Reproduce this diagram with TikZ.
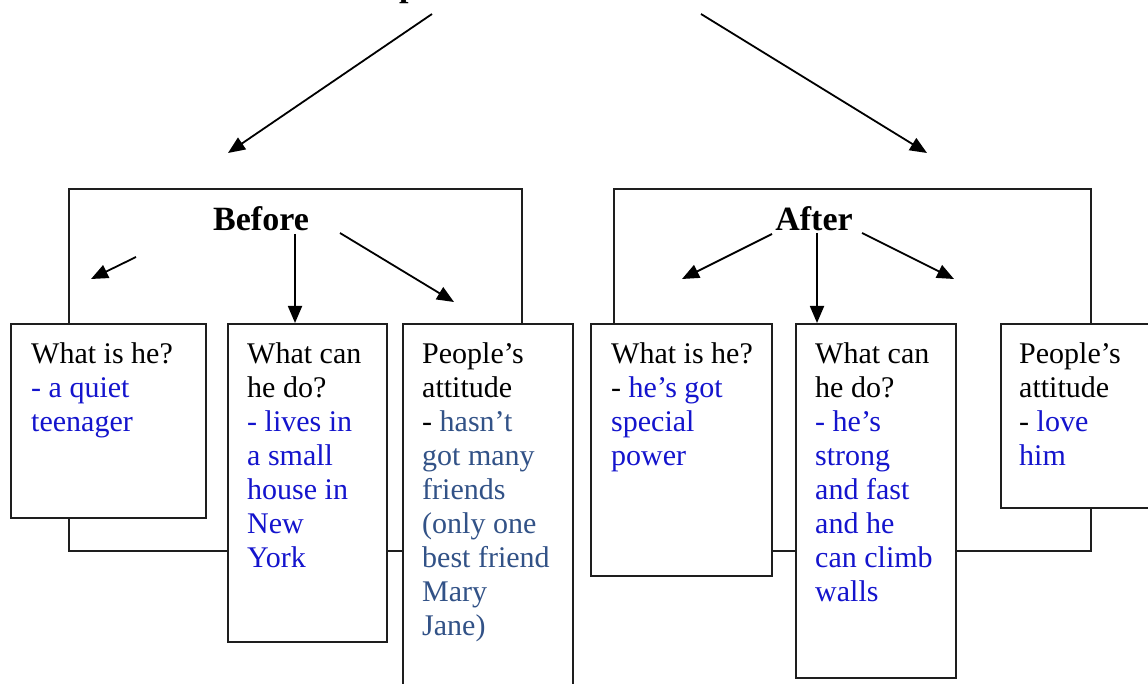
\documentclass[tikz,border=0pt]{standalone}
\usepackage{fontspec}
\setmainfont{Liberation Serif}
\usetikzlibrary{arrows.meta}
\definecolor{txtblue}{RGB}{20,20,205}
\definecolor{txtslate}{RGB}{50,82,135}
\definecolor{linec}{RGB}{30,30,30}
\begin{document}
\begin{tikzpicture}[x=1pt,y=-1pt,
  framest/.style={draw=linec, line width=1.8pt, anchor=north west, inner sep=0pt},
  cbox/.style={draw=linec, line width=1.8pt, fill=white, anchor=north west, inner sep=0pt},
  btxt/.style={anchor=north west, inner sep=0pt, align=left, font=\fontsize{30}{34}\selectfont},
  ttl/.style={anchor=base, inner sep=0pt, font=\fontsize{34}{40}\selectfont\bfseries},
  arr/.style={draw=black, line width=1.8pt, -{Triangle[length=17pt,width=14pt]}}]
\useasboundingbox (0,0) rectangle (1148,684);
\fill[white] (0,0) rectangle (1148,684);

% cut-off title (only a descender shows)
\node[ttl, anchor=base west] (title) at (399,-3.5) {p};

% top arrows
\coordinate (tls) at (432,14);
\coordinate (tle) at (228,153);
\coordinate (trs) at (701,14);
\coordinate (tre) at (927,153);
\draw[arr] (tls) -- (tle);
\draw[arr] (trs) -- (tre);

% frames
\node[framest, minimum width=453pt, minimum height=362pt] (fbefore) at (68,188) {};
\node[framest, minimum width=477pt, minimum height=362pt] (fafter) at (613,188) {};

% titles
\node[ttl] (before) at (261,231) {Before};
\node[ttl] (after) at (814,231) {After};

% Before arrows
\coordinate (b1s) at (136,257);
\coordinate (b1e) at (91,279);
\coordinate (b2s) at (295,234);
\coordinate (b2e) at (295,323);
\coordinate (b3s) at (340,233);
\coordinate (b3e) at (454,302);
\draw[arr] (b1s) -- (b1e);
\draw[arr] (b2s) -- (b2e);
\draw[arr] (b3s) -- (b3e);

% After arrows
\coordinate (a1s) at (772,234);
\coordinate (a1e) at (682,279);
\coordinate (a2s) at (817,233);
\coordinate (a2e) at (817,323);
\coordinate (a3s) at (862,233);
\coordinate (a3e) at (954,279);
\draw[arr] (a1s) -- (a1e);
\draw[arr] (a2s) -- (a2e);
\draw[arr] (a3s) -- (a3e);

% boxes
\node[cbox, minimum width=195pt, minimum height=194pt] (bx1) at (10,323) {};
\node[cbox, minimum width=159pt, minimum height=318pt] (bx2) at (227,323) {};
\node[cbox, minimum width=170pt, minimum height=400pt] (bx3) at (402,323) {};
\node[cbox, minimum width=181pt, minimum height=252pt] (bx4) at (590,323) {};
\node[cbox, minimum width=160pt, minimum height=354pt] (bx5) at (795,323) {};
\node[cbox, minimum width=200pt, minimum height=184pt] (bx6) at (1000,323) {};

% texts
\node[btxt] (t1) at (31,339.2) {\strut What is he?\\
  \textcolor{txtblue}{- a quiet}\\
  \textcolor{txtblue}{teenager}};
\node[btxt] (t2) at (247,339.2) {\strut What can\\ he do?\\
  \textcolor{txtblue}{- lives in}\\
  \textcolor{txtblue}{a small}\\
  \textcolor{txtblue}{house in}\\
  \textcolor{txtblue}{New}\\
  \textcolor{txtblue}{York}};
\node[btxt] (t3) at (422,339.2) {\strut People’s\\ attitude\\
  - \textcolor{txtslate}{hasn’t}\\
  \textcolor{txtslate}{got many}\\
  \textcolor{txtslate}{friends}\\
  \textcolor{txtslate}{(only one}\\
  \textcolor{txtslate}{best friend}\\
  \textcolor{txtslate}{Mary}\\
  \textcolor{txtslate}{Jane)}};
\node[btxt] (t4) at (611,339.2) {\strut What is he?\\
  - \textcolor{txtblue}{he’s got}\\
  \textcolor{txtblue}{special}\\
  \textcolor{txtblue}{power}};
\node[btxt] (t5) at (815,339.2) {\strut What can\\ he do?\\
  \textcolor{txtblue}{- he’s}\\
  \textcolor{txtblue}{strong}\\
  \textcolor{txtblue}{and fast}\\
  \textcolor{txtblue}{and he}\\
  \textcolor{txtblue}{can climb}\\
  \textcolor{txtblue}{walls}};
\node[btxt] (t6) at (1019,339.2) {\strut People’s\\ attitude\\
  - \textcolor{txtblue}{love}\\
  \textcolor{txtblue}{him}};
\end{tikzpicture}
\end{document}
